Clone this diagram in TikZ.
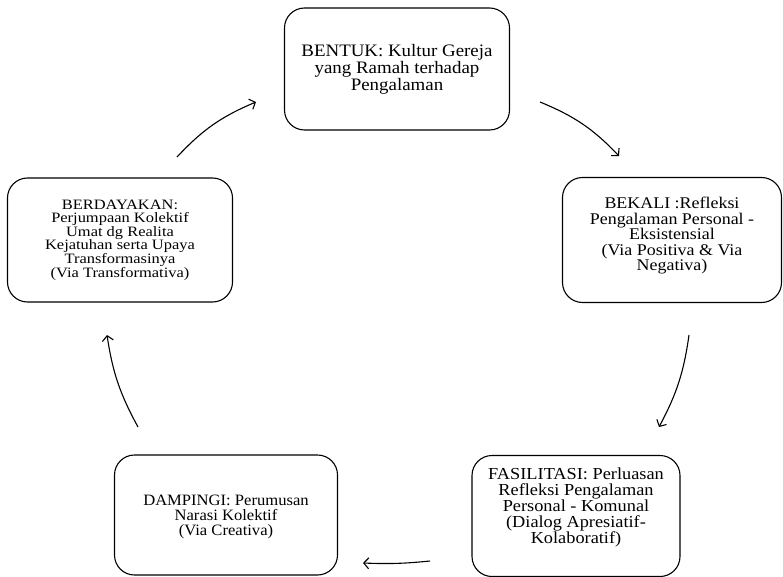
\documentclass[tikz,border=0pt]{standalone}
\usepackage{fontspec}
\setmainfont{Liberation Serif}
\usetikzlibrary{arrows.meta}
\def\boxfont#1#2#3{\fontsize{#1}{#2}\selectfont\addfontfeature{FakeStretch=#3}}
\begin{document}
\begin{tikzpicture}[x=1pt,y=-1pt]
\tikzstyle{stepbox}=[draw=black,line width=1.1pt,rounded corners=20pt,align=center,inner sep=0pt];
\tikzstyle{myarrow}=[line width=1.1pt,draw=black,-{Straight Barb[length=5pt,width=11pt]}];

\useasboundingbox (0,0) rectangle (783,577);

% the five boxes
\node [stepbox,minimum width=225pt,minimum height=122pt,font=\boxfont{17.5}{17}{1.08}] (bentuk) at (397,69)
  {BENTUK: Kultur Gereja\\ yang Ramah terhadap\\ Pengalaman};
\node [stepbox,minimum width=219pt,minimum height=125pt,text depth=11.5pt,font=\boxfont{16.3}{15.5}{1.1}] (bekali) at (672,240)
  {BEKALI :Refleksi\\ Pengalaman Personal -\\ Eksistensial\\ (Via Positiva \& Via\\ Negativa)};
\node [stepbox,minimum width=208pt,minimum height=121pt,text depth=21pt,font=\boxfont{16.8}{16}{1.09}] (fasilitasi) at (576,516)
  {FASILITASI: Perluasan\\ Refleksi Pengalaman\\ Personal - Komunal\\ (Dialog Apresiatif-\\ Kolaboratif)};
\node [stepbox,minimum width=223pt,minimum height=120pt,text depth=-8.5pt,font=\boxfont{15.8}{15}{1.05}] (dampingi) at (226,515)
  {DAMPINGI: Perumusan\\ Narasi Kolektif\\ (Via Creativa)};
\node [stepbox,minimum width=225pt,minimum height=124pt,font=\boxfont{14.3}{13.6}{1.15}] (berdayakan) at (120,240)
  {BERDAYAKAN:\\ Perjumpaan Kolektif\\ Umat dg Realita\\ Kejatuhan serta Upaya\\ Transformasinya\\ (Via Transformativa)};

% arrow ends
\coordinate (a1) at (177,157); \coordinate (b1) at (256,102);
\coordinate (a2) at (540,102); \coordinate (b2) at (619,156);
\coordinate (a3) at (689,335); \coordinate (b3) at (659,427);
\coordinate (a4) at (430,561); \coordinate (b4) at (363,563);
\coordinate (a5) at (138,427); \coordinate (b5) at (107,335);

\draw [myarrow] (a1) to[bend left=12] (b1); % to bentuk
\draw [myarrow] (a2) to[bend left=12] (b2); % to bekali
\draw [myarrow] (a3) to[bend left=10] (b3); % to fasilitasi
\draw [myarrow] (a4) to[bend left=4] (b4); % to dampingi
\draw [myarrow] (a5) to[bend right=-10] (b5); % to berdayakan

\end{tikzpicture}
\end{document}
